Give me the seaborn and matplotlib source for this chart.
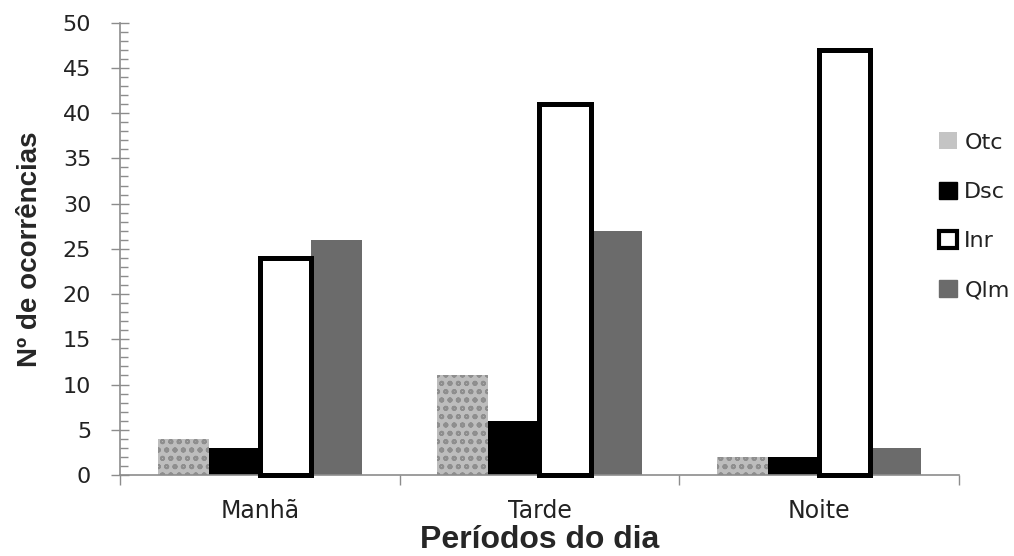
import matplotlib
matplotlib.use("Agg")
import matplotlib.pyplot as plt
import seaborn as sns
import pandas as pd
from matplotlib.patches import Patch
from matplotlib.ticker import MultipleLocator, FixedLocator

periods = ["Manhã", "Tarde", "Noite"]
series = ["Otc", "Dsc", "Inr", "Qlm"]
otc = [4, 11, 2]
dsc = [3, 6, 2]
inr = [24, 41, 47]
qlm = [26, 27, 3]

rows = []
for name, vals in zip(series, [otc, dsc, inr, qlm]):
    for p, v in zip(periods, vals):
        rows.append({"Período": p, "Série": name, "Valor": v})
df = pd.DataFrame(rows)

sns.set_style("white")
plt.rcParams["font.family"] = ["DejaVu Sans"]
plt.rcParams["hatch.linewidth"] = 1.3

fig = plt.figure(figsize=(10.14, 5.56), dpi=100)
ax = fig.add_axes([0.1183, 0.1457, 0.8275, 0.8135])

face = {"Otc": "#b8b8b8", "Dsc": "#000000", "Inr": "#ffffff", "Qlm": "#6b6b6b"}
sns.barplot(data=df, x="Período", y="Valor", hue="Série", order=periods,
            hue_order=series, palette=face, width=0.73, gap=0,
            saturation=1, ax=ax, legend=False, errorbar=None)

for name, cont in zip(series, ax.containers):
    for bar in cont:
        if name == "Otc":
            bar.set_facecolor("#bdbdbd")
            bar.set_edgecolor("#8e8e8e")
            bar.set_hatch("oo")
            bar.set_linewidth(0)
        elif name == "Inr":
            bar.set_facecolor("white")
            bar.set_edgecolor("black")
            bar.set_linewidth(3.6)
            bar.set_clip_on(False)
            bar.set_zorder(3)
        else:
            bar.set_edgecolor(face[name])
            bar.set_linewidth(0)

ax.set_ylim(0, 50)
ax.set_xlim(-0.5, 2.5)
ax.yaxis.set_major_locator(MultipleLocator(5))
ax.yaxis.set_minor_locator(MultipleLocator(1))
ax.tick_params(axis="y", which="major", direction="inout", length=13.5, width=1,
               color="#8c8c8c", labelsize=16, labelcolor="#222222", pad=14, left=True)
ax.tick_params(axis="y", which="minor", direction="in", length=6, width=1,
               color="#8c8c8c", left=True)

ax.xaxis.set_major_locator(FixedLocator([-0.5, 0.5, 1.5, 2.5]))
ax.xaxis.set_minor_locator(FixedLocator([0, 1, 2]))
ax.set_xticklabels([], minor=False)
ax.set_xticklabels(periods, minor=True)
ax.tick_params(axis="x", which="major", direction="out", length=7, width=1,
               color="#8c8c8c", bottom=True)
ax.tick_params(axis="x", which="minor", length=0, labelsize=17,
               labelcolor="#222222", pad=17)

for s in ["top", "right"]:
    ax.spines[s].set_visible(False)
for s in ["left", "bottom"]:
    ax.spines[s].set_color("#8c8c8c")
    ax.spines[s].set_linewidth(1.2)

ax.set_ylabel("Nº de ocorrências", fontsize=20, fontweight="bold",
              family="Liberation Sans", labelpad=14)
ax.set_xlabel("Períodos do dia", fontsize=23, fontweight="bold",
              family="Liberation Sans", labelpad=2)

handles = [
    Patch(facecolor="#c4c4c4", edgecolor="#c4c4c4", linewidth=0),
    Patch(facecolor="black", edgecolor="black"),
    Patch(facecolor="white", edgecolor="black", linewidth=3),
    Patch(facecolor="#6b6b6b", edgecolor="#6b6b6b"),
]
leg = ax.legend(handles, series, loc="center left", bbox_to_anchor=(0.952, 0.572),
                frameon=False, fontsize=16, handlelength=0.8, handleheight=0.8,
                handletextpad=0.35, labelspacing=1.3)
for t in leg.get_texts():
    t.set_color("#222222")

fig.savefig("out.png", dpi=100)
